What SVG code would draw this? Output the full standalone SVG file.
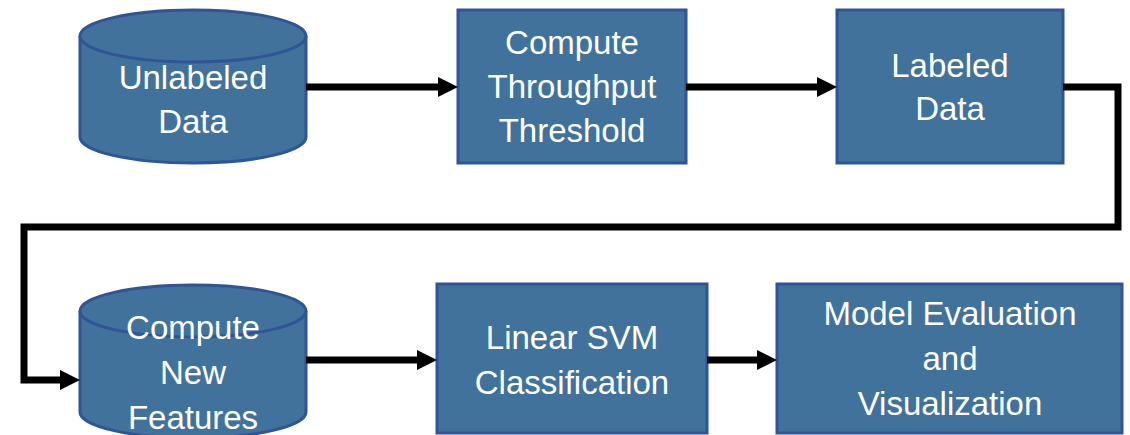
<svg xmlns="http://www.w3.org/2000/svg" width="1130" height="435" viewBox="0 0 1130 435">
<style>
.shape{fill:#41729C;stroke:#2F5597;stroke-width:3}
.lbl{font-family:"Liberation Sans",Arial,sans-serif;font-size:33px;fill:#FFFFFF;text-anchor:middle}
.conn{fill:none;stroke:#000000;stroke-width:7;stroke-linejoin:miter}
</style>
<defs>
<marker id="ah" viewBox="0 0 20 20" markerWidth="20" markerHeight="20" refX="8" refY="10" markerUnits="userSpaceOnUse" orient="auto">
<path d="M0,0 L20,10 L0,20 Z" fill="#000000"/>
</marker>
</defs>
<rect width="1130" height="435" fill="#FFFFFF"/>
<g id="unlabeled-data">
<path class="shape" d="M80,36 A113,26 0 0 1 306,36 V137 A113,26 0 0 1 80,137 Z"/>
<path class="shape" d="M80,36 A113,26 0 0 0 306,36"/>
<text class="lbl" x="193" y="89">Unlabeled</text>
<text class="lbl" x="193" y="133">Data</text>
</g>
<g id="compute-threshold">
<rect class="shape" x="458" y="10" width="228" height="153"/>
<text class="lbl" x="572" y="54">Compute</text>
<text class="lbl" x="572" y="98">Throughput</text>
<text class="lbl" x="572" y="142">Threshold</text>
</g>
<g id="labeled-data">
<rect class="shape" x="837" y="10" width="226" height="153"/>
<text class="lbl" x="950" y="77">Labeled</text>
<text class="lbl" x="950" y="120">Data</text>
</g>
<g id="compute-new-features">
<path class="shape" d="M80,311 A113,26 0 0 1 306,311 V412 A113,26 0 0 1 80,412 Z"/>
<path class="shape" d="M80,311 A113,26 0 0 0 306,311"/>
<text class="lbl" x="193" y="339">Compute</text>
<text class="lbl" x="193" y="384">New</text>
<text class="lbl" x="193" y="429">Features</text>
</g>
<g id="linear-svm">
<rect class="shape" x="437" y="284" width="270" height="149"/>
<text class="lbl" x="572" y="349">Linear SVM</text>
<text class="lbl" x="572" y="394">Classification</text>
</g>
<g id="model-evaluation">
<rect class="shape" x="777" y="284" width="345" height="149"/>
<text class="lbl" x="950" y="325">Model Evaluation</text>
<text class="lbl" x="950" y="370">and</text>
<text class="lbl" x="950" y="415">Visualization</text>
</g>
<g id="connectors">
<path class="conn" d="M306,87 H446" marker-end="url(#ah)"/>
<path class="conn" d="M686,87 H825" marker-end="url(#ah)"/>
<path class="conn" d="M1063,87 H1118 V227 H24 V380 H68" marker-end="url(#ah)"/>
<path class="conn" d="M306,360 H425" marker-end="url(#ah)"/>
<path class="conn" d="M707,360 H765" marker-end="url(#ah)"/>
</g>
</svg>
